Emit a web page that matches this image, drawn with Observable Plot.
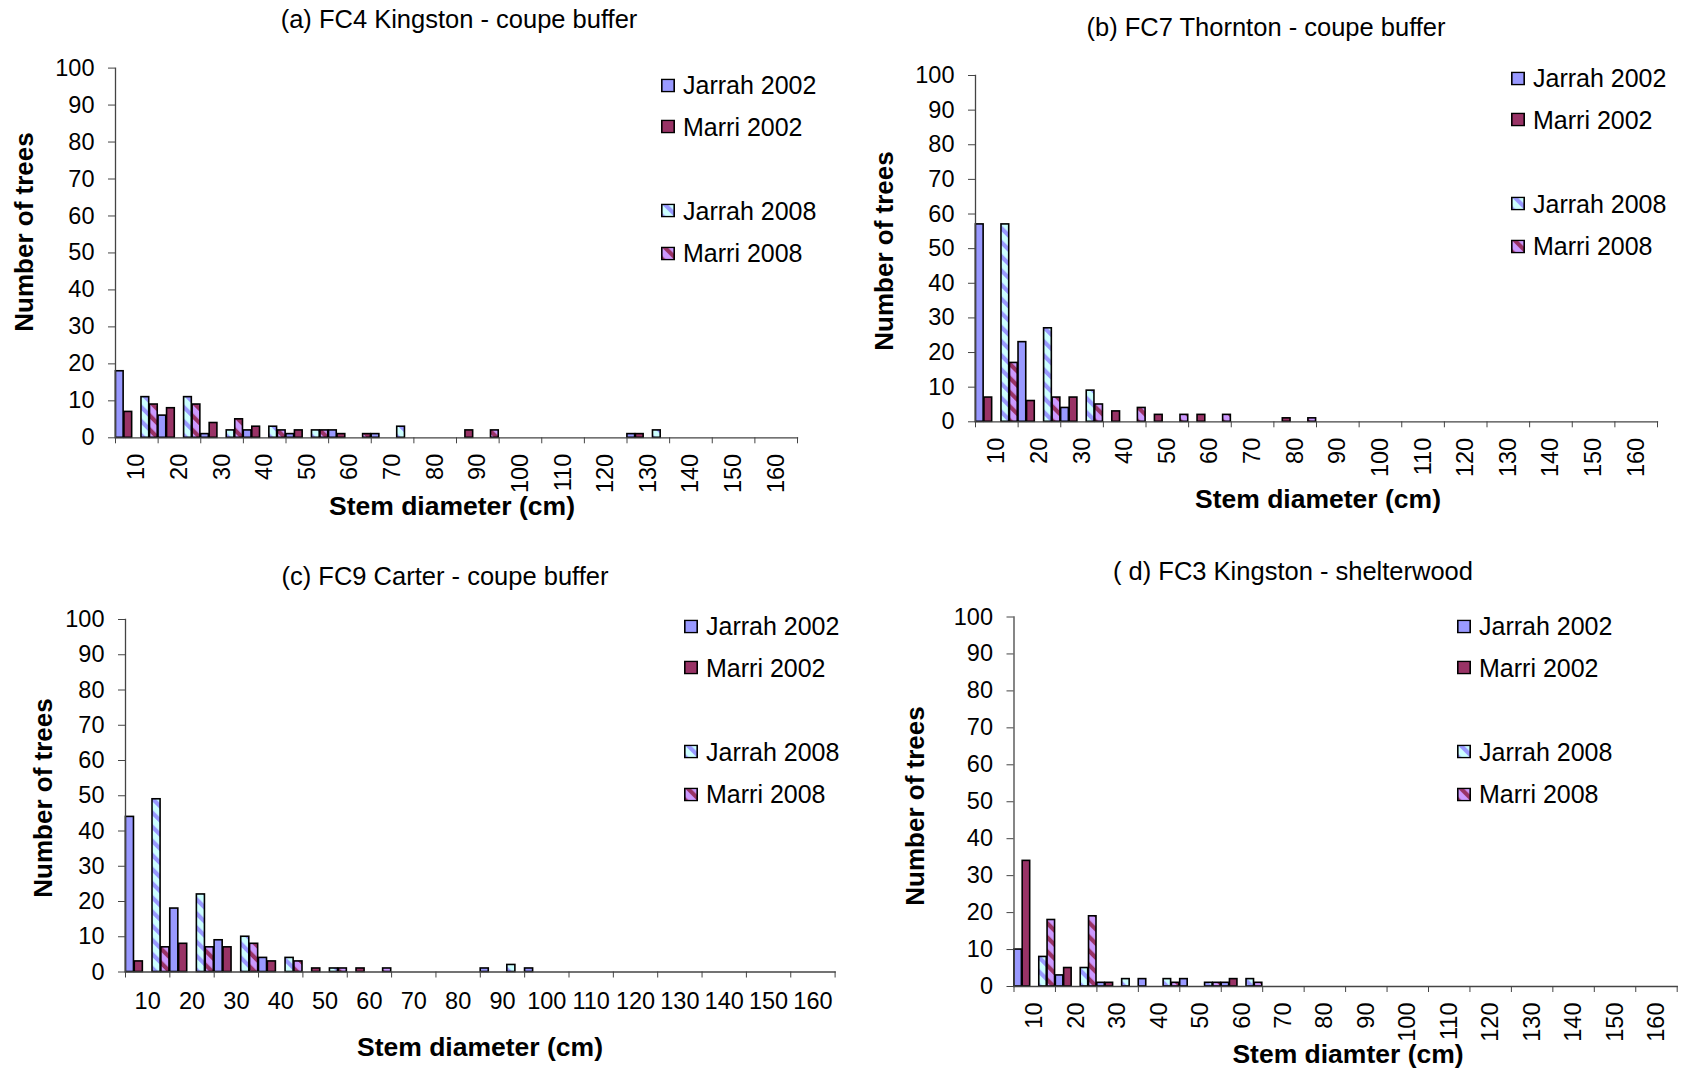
<!DOCTYPE html>
<html><head><meta charset="utf-8">
<script src="https://cdn.jsdelivr.net/npm/d3@7"></script>
<script src="https://cdn.jsdelivr.net/npm/@observablehq/plot@0.6"></script>
<style>
html,body{margin:0;padding:0;background:#fff;}
#page{position:relative;width:1682px;height:1072px;overflow:hidden;background:#fff;font-family:"Liberation Sans",Arial,sans-serif;color:#000;}
.abs{position:absolute;white-space:nowrap;line-height:1;}
.title{font-size:25.5px;transform:translate(-50%,-50%);}
.xlab{font-size:26.5px;font-weight:bold;transform:translate(-50%,-50%);}
.ylab{font-size:26px;font-weight:bold;transform:translate(-50%,-50%) rotate(-90deg);}
.leg{font-size:25px;transform:translateY(-50%);display:flex;align-items:center;}
.leg svg{margin-right:8px;}
.plot{position:absolute;}
</style></head><body>
<svg width="0" height="0" style="position:absolute">
<defs>
<pattern id="hatchJ08" patternUnits="userSpaceOnUse" width="10" height="10" patternTransform="rotate(-45)">
<rect width="10" height="10" fill="#CCFFFF"/><rect width="4.2" height="10" fill="#9999FF"/>
</pattern>
<pattern id="hatchM08" patternUnits="userSpaceOnUse" width="10" height="10" patternTransform="rotate(-45)">
<rect width="10" height="10" fill="#CC99FF"/><rect width="4.2" height="10" fill="#993366"/>
</pattern>
</defs></svg>
<div id="page"></div>
<script>
// ---------- data ----------
const categories = [10,20,30,40,50,60,70,80,90,100,110,120,130,140,150,160];
const seriesNames = ["Jarrah 2002","Marri 2002","Jarrah 2008","Marri 2008"];
const clusterSlots = ["Jarrah 2002","Marri 2002","","Jarrah 2008","Marri 2008"]; // blank series between years
const yTicks = [0,10,20,30,40,50,60,70,80,90,100];

// (a) FC4 Kingston - coupe buffer
const fc4Jarrah2002 = [18,6,1,2,1,2,1,0,0,0,0,0,1,0,0,0];
const fc4Marri2002  = [7,8,4,3,2,1,0,0,2,0,0,0,1,0,0,0];
const fc4Jarrah2008 = [11,11,2,3,2,0,3,0,0,0,0,0,2,0,0,0];
const fc4Marri2008  = [9,9,5,2,2,1,0,0,2,0,0,0,0,0,0,0];
// (b) FC7 Thornton - coupe buffer
const fc7Jarrah2002 = [57,23,4,0,0,0,0,0,0,0,0,0,0,0,0,0];
const fc7Marri2002  = [7,6,7,3,2,2,0,1,0,0,0,0,0,0,0,0];
const fc7Jarrah2008 = [57,27,9,0,0,0,0,0,0,0,0,0,0,0,0,0];
const fc7Marri2008  = [17,7,5,4,2,2,0,1,0,0,0,0,0,0,0,0];
// (c) FC9 Carter - coupe buffer
const fc9Jarrah2002 = [44,18,9,4,0,0,0,0,1,1,0,0,0,0,0,0];
const fc9Marri2002  = [3,8,7,3,1,1,0,0,0,0,0,0,0,0,0,0];
const fc9Jarrah2008 = [49,22,10,4,1,0,0,0,2,0,0,0,0,0,0,0];
const fc9Marri2008  = [7,7,8,3,1,1,0,0,0,0,0,0,0,0,0,0];
// (d) FC3 Kingston - shelterwood
const fc3Jarrah2002 = [10,3,1,2,2,1,0,0,0,0,0,0,0,0,0,0];
const fc3Marri2002  = [34,5,1,0,0,2,0,0,0,0,0,0,0,0,0,0];
const fc3Jarrah2008 = [8,5,2,2,1,2,0,0,0,0,0,0,0,0,0,0];
const fc3Marri2008  = [18,19,0,1,1,1,0,0,0,0,0,0,0,0,0,0];

// ---------- styles ----------
const seriesFills = ["#9999FF","#993366","url(#hatchJ08)","url(#hatchM08)"];
const axisColor = "#444";
const page = document.getElementById("page");

function addText(cls, text, x, y) {
  const d = document.createElement("div");
  d.className = "abs " + cls;
  d.textContent = text;
  d.style.left = x + "px";
  d.style.top = y + "px";
  page.appendChild(d);
}

function addLegend(x, y0) {
  const offsets = [0, 41.7, 125.5, 168];
  seriesNames.forEach((s, i) => {
    const row = document.createElement("div");
    row.className = "abs leg";
    row.style.left = x + "px";
    row.style.top = (y0 + offsets[i]) + "px";
    row.innerHTML = `<svg width="14" height="14"><rect x="0.8" y="0.8" width="12.4" height="12.4" fill="${seriesFills[i]}" stroke="#000" stroke-width="1.6"/></svg><span>${s}</span>`;
    page.appendChild(row);
  });
}

function panel(cfg) {
  const step = categories[1] - categories[0];
  const nSlots = clusterSlots.length;
  const data = [];
  cfg.values.forEach((arr, i) => arr.forEach((v, j) => {
    if (v > 0) data.push({cat: categories[j], series: seriesNames[i], slot: clusterSlots.indexOf(seriesNames[i]), value: v});
  }));
  const boundaries = [categories[0] - step / 2, ...categories.map(c => c + step / 2)];
  const chart = Plot.plot({
    width: cfg.w, height: cfg.h,
    marginLeft: cfg.mL, marginRight: cfg.mR, marginTop: cfg.mT, marginBottom: cfg.mB,
    x: {domain: [boundaries[0], boundaries[boundaries.length - 1]]},
    y: {domain: [0, 100]},
    color: {type: "ordinal", domain: seriesNames, range: seriesFills},
    style: {fontFamily: '"Liberation Sans", Arial, sans-serif', fontSize: "23px", color: "#000", background: "transparent", overflow: "visible"},
    marks: [
      Plot.rectY(data, {
        x1: d => d.cat - step / 2 + d.slot * step / nSlots,
        x2: d => d.cat - step / 2 + (d.slot + 1) * step / nSlots,
        y: "value", fill: "series", stroke: "#000", strokeWidth: 1.6, insetLeft: 0.4, insetRight: 0.4
      }),
      Plot.frame({anchor: "left", stroke: axisColor, strokeWidth: 1.3}),
      Plot.frame({anchor: "bottom", stroke: axisColor, strokeWidth: 1.3}),
      Plot.axisY({ticks: yTicks, tickSize: 7, tickPadding: 14, stroke: axisColor, label: null, fontSize: 23.5}),
      Plot.axisX({ticks: boundaries, tickSize: 6, tickFormat: () => "", stroke: axisColor, label: null}),
      Plot.axisX({ticks: categories, tickSize: 0, tickPadding: cfg.rotate ? 16 : 20, tickRotate: cfg.rotate ? -90 : 0, label: null, fontSize: 23.5})
    ]
  });
  chart.classList.add("plot");
  chart.style.left = cfg.left + "px";
  chart.style.top = cfg.top + "px";
  page.appendChild(chart);
}

panel({left: 0, top: 0, w: 841, h: 536, mL: 115, mR: 44, mT: 67.6, mB: 98.7, rotate: true,
  values: [fc4Jarrah2002, fc4Marri2002, fc4Jarrah2008, fc4Marri2008]});
panel({left: 841, top: 0, w: 841, h: 536, mL: 134, mR: 25, mT: 75, mB: 114.7, rotate: true,
  values: [fc7Jarrah2002, fc7Marri2002, fc7Jarrah2008, fc7Marri2008]});
panel({left: 0, top: 536, w: 841, h: 536, mL: 125, mR: 6.4, mT: 83, mB: 100.5, rotate: false,
  values: [fc9Jarrah2002, fc9Marri2002, fc9Jarrah2008, fc9Marri2008]});
panel({left: 841, top: 536, w: 841, h: 536, mL: 172.5, mR: 5.3, mT: 80.5, mB: 86, rotate: true,
  values: [fc3Jarrah2002, fc3Marri2002, fc3Jarrah2008, fc3Marri2008]});

// titles
addText("title", "(a) FC4 Kingston - coupe buffer", 459, 20);
addText("title", "(b) FC7 Thornton - coupe buffer", 1266, 28);
addText("title", "(c) FC9 Carter - coupe buffer", 445, 577);
addText("title", "( d) FC3 Kingston - shelterwood", 1293, 572);
// axis titles
addText("ylab", "Number of trees", 24, 232);
addText("ylab", "Number of trees", 884, 251);
addText("ylab", "Number of trees", 43, 798);
addText("ylab", "Number of trees", 915, 806);
addText("xlab", "Stem diameter (cm)", 452, 506);
addText("xlab", "Stem diameter (cm)", 1318, 499);
addText("xlab", "Stem diameter (cm)", 480, 1047);
addText("xlab", "Stem diamter (cm)", 1348, 1054);
// legends
addLegend(661, 85);
addLegend(1511, 78);
addLegend(684, 626);
addLegend(1457, 626);
</script>
</body></html>
